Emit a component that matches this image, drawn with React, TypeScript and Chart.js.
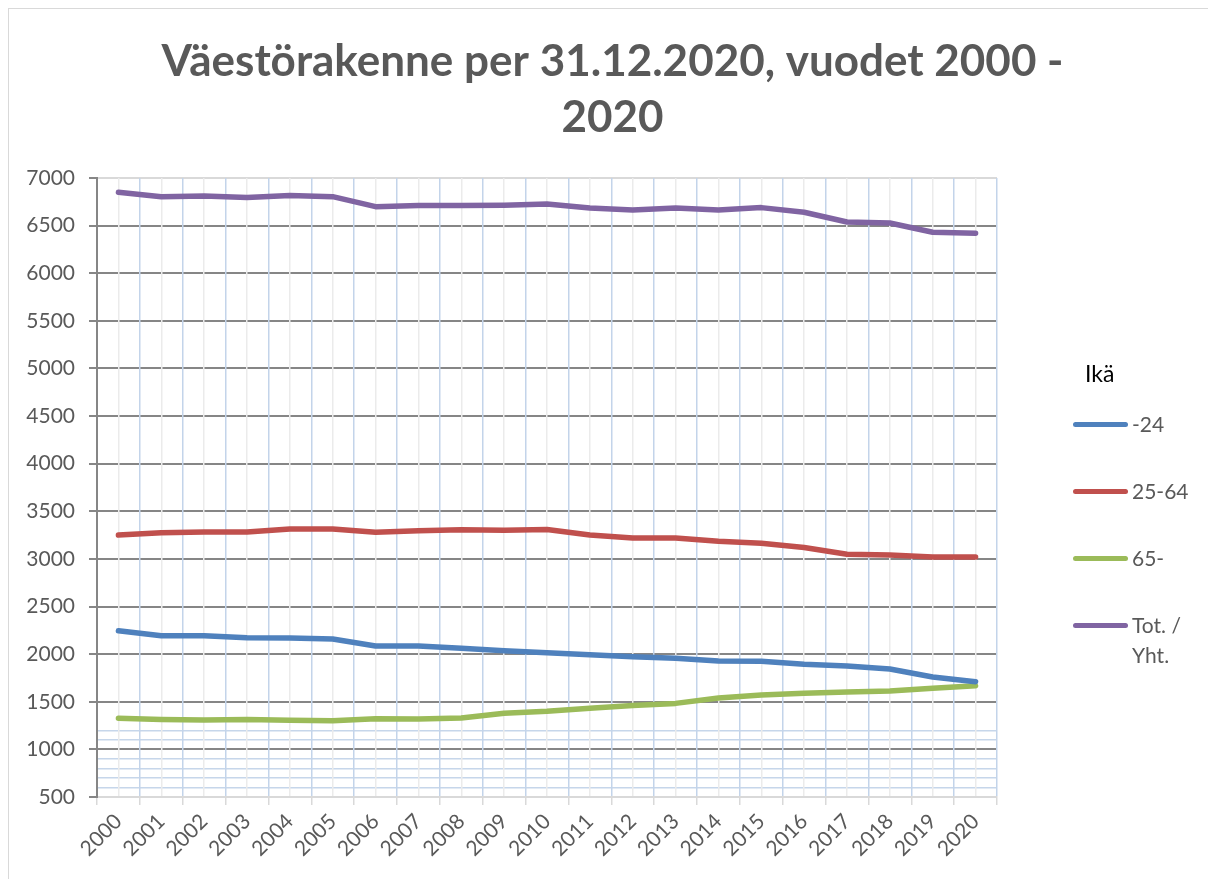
import React, { useEffect, useRef } from 'react';
import { Chart, registerables } from 'chart.js';

Chart.register(...registerables);

// ---- data ----
const years = ['2000', '2001', '2002', '2003', '2004', '2005', '2006', '2007', '2008', '2009', '2010',
  '2011', '2012', '2013', '2014', '2015', '2016', '2017', '2018', '2019', '2020'];
const youth = [2246, 2194, 2194, 2173, 2170, 2159, 2086, 2086, 2061, 2037, 2016, 1995, 1972, 1956, 1928, 1925, 1893, 1876, 1844, 1760, 1711];
const working = [3251, 3275, 3282, 3282, 3315, 3315, 3280, 3297, 3307, 3300, 3310, 3251, 3220, 3220, 3185, 3165, 3120, 3050, 3040, 3020, 3020];
const elderly = [1326, 1315, 1308, 1315, 1305, 1301, 1322, 1319, 1330, 1379, 1400, 1431, 1460, 1483, 1540, 1571, 1589, 1603, 1613, 1641, 1669];
const total = [6850, 6804, 6811, 6794, 6815, 6804, 6699, 6712, 6712, 6715, 6727, 6685, 6664, 6686, 6664, 6689, 6640, 6538, 6527, 6430, 6420];

const seriesLabels = ['-24', '25-64', '65-', 'Tot. / Yht.'];
const legendTitle = 'Ikä';
const titleLines = ['Väestörakenne per 31.12.2020, vuodet 2000 -', '2020'];
const yMajorTicks = [500, 1000, 1500, 2000, 2500, 3000, 3500, 4000, 4500, 5000, 5500, 6000, 6500, 7000];
const yMinorTicks = [600, 700, 800, 900, 1100, 1200];

const COLORS = ['#4f81bd', '#c0504d', '#9bbb59', '#8064a2'];
const FONT = 'Lato, "Open Sans", sans-serif';
const TEXT = '#595959';

export default function App() {
  const ref = useRef<HTMLCanvasElement>(null);

  useEffect(() => {
    const values = [youth, working, elderly, total];
    const chart = new Chart(ref.current as HTMLCanvasElement, {
      type: 'line',
      data: {
        labels: years,
        datasets: values.map((v, i) => ({
          label: seriesLabels[i],
          data: v,
          borderColor: COLORS[i],
          backgroundColor: COLORS[i],
          borderWidth: 5.5,
          borderCapStyle: 'round',
          borderJoinStyle: 'round',
          pointRadius: 0,
          tension: 0,
          xAxisID: 'x',
          yAxisID: 'y',
        })),
      },
      options: {
        animation: false,
        responsive: false,
        maintainAspectRatio: false,
        layout: { padding: 0 },
        plugins: {
          legend: { display: false },
          tooltip: { enabled: false },
          title: {
            display: true,
            text: titleLines,
            color: TEXT,
            font: { family: FONT, size: 44, weight: 'bold', lineHeight: '56px' },
            padding: { top: 25, bottom: 32 },
          },
        },
        scales: {
          x: {
            type: 'category',
            position: 'bottom',
            offset: true,
            grid: { offset: true, color: '#c3d4ea', lineWidth: 1.5, tickColor: '#d9d9d9', tickLength: 8, z: -1 },
            border: { color: '#d9d9d9', width: 2 },
            ticks: {
              minRotation: 45, maxRotation: 45, autoSkip: false, color: TEXT, padding: 4,
              font: { family: FONT, size: 21 },
            },
            afterFit: (s: any) => { s.height = 82; },
          },
          xc: {
            type: 'category',
            position: 'bottom',
            offset: true,
            grid: { offset: false, color: '#ebebeb', lineWidth: 1.5, drawTicks: false, z: -1 },
            border: { display: false },
            ticks: { display: false },
            afterFit: (s: any) => { s.height = 0; },
          },
          y: {
            type: 'linear',
            position: 'left',
            min: 500,
            max: 7000,
            afterBuildTicks: (s: any) => {
              s.ticks = [...yMajorTicks, ...yMinorTicks].sort((a, b) => a - b).map((v) => ({ value: v }));
            },
            ticks: {
              autoSkip: false,
              color: TEXT,
              padding: 14,
              font: { family: FONT, size: 21 },
              callback: (v: any) => (yMajorTicks.includes(Number(v)) ? String(v) : ''),
            },
            grid: {
              z: -2,
              tickLength: 8,
              color: (ctx: any) => {
                const v = ctx.tick ? ctx.tick.value : 0;
                if (v === 500 || v === 7000) return '#d9d9d9';
                if (yMajorTicks.includes(v)) return '#868686';
                return '#c6d6ea';
              },
              lineWidth: (ctx: any) => {
                const v = ctx.tick ? ctx.tick.value : 0;
                return yMajorTicks.includes(v) ? 2 : 1.5;
              },
              tickColor: (ctx: any) => {
                const v = ctx.tick ? ctx.tick.value : 0;
                return yMajorTicks.includes(v) ? '#868686' : 'rgba(0,0,0,0)';
              },
            },
            border: { color: '#868686', width: 2 },
            afterFit: (s: any) => { s.width = 88; },
          },
          yr: {
            type: 'linear',
            position: 'right',
            grid: { display: false },
            border: { display: false },
            ticks: { display: false },
            afterFit: (s: any) => { s.width = 219; },
          },
        },
      } as any,
    });
    return () => chart.destroy();
  }, []);

  const legendRows = [424, 491, 558, 625];

  return (
    <div
      style={{
        position: 'relative',
        width: 1208,
        height: 871,
        borderLeft: '1px solid #d9d9d9',
        borderTop: '1px solid #d9d9d9',
        boxSizing: 'border-box',
        overflow: 'hidden',
      }}
    >
      <canvas
        ref={ref}
        width={1207}
        height={870}
        style={{ position: 'absolute', left: 0, top: 0, width: 1207, height: 870 }}
      />
      <div
        style={{
          position: 'absolute', left: 1085 - 9, top: 373 - 9 - 15, fontFamily: FONT, fontSize: 23,
          lineHeight: '30px', color: '#000',
        }}
      >
        {legendTitle}
      </div>
      {seriesLabels.map((lab, i) => {
        const parts = lab === 'Tot. / Yht.' ? ['Tot. /', 'Yht.'] : [lab];
        return (
          <div key={lab}>
            <div
              style={{
                position: 'absolute', left: 1073 - 9, top: legendRows[i] - 9 - 2.5, width: 55, height: 5,
                borderRadius: 3, background: COLORS[i],
              }}
            />
            <div
              style={{
                position: 'absolute', left: 1132 - 9, top: legendRows[i] - 9 - 15, fontFamily: FONT,
                fontSize: 21, lineHeight: '30px', color: TEXT, whiteSpace: 'nowrap',
              }}
            >
              {parts.map((p) => (
                <div key={p}>{p}</div>
              ))}
            </div>
          </div>
        );
      })}
    </div>
  );
}
